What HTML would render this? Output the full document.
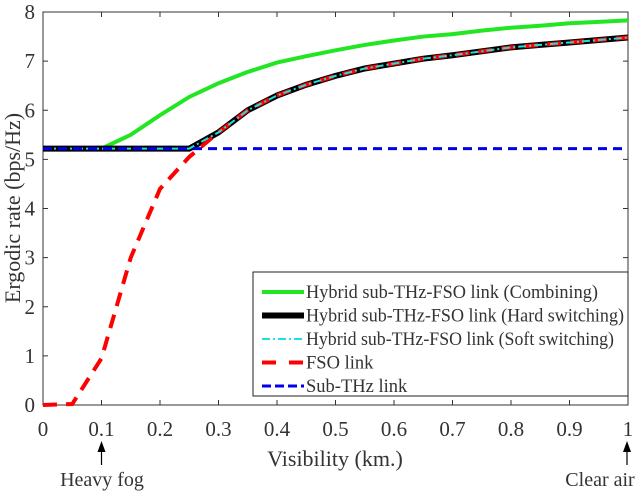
<!DOCTYPE html>
<html><head><meta charset="utf-8"><style>
body{margin:0;background:#fff;width:640px;height:491px;overflow:hidden}
text{font-family:"Liberation Serif",serif;fill:#333}
</style></head><body>
<svg id="chart" width="640" height="491" xmlns="http://www.w3.org/2000/svg"></svg>
<script>
const xs=[0,0.05,0.1,0.15,0.2,0.25,0.3,0.35,0.4,0.45,0.5,0.55,0.6,0.65,0.7,0.75,0.8,0.85,0.9,0.95,1];
const combining=[5.22,5.22,5.22,5.5,5.9,6.27,6.55,6.78,6.97,7.1,7.22,7.33,7.42,7.5,7.55,7.62,7.68,7.72,7.77,7.8,7.83];
const hard=[5.22,5.22,5.22,5.22,5.22,5.22,5.55,6.0,6.3,6.52,6.7,6.85,6.95,7.05,7.12,7.2,7.28,7.33,7.38,7.43,7.48];
const fso=[0,0.02,0.95,3.0,4.4,5.05,5.55,6.0,6.3,6.52,6.7,6.85,6.95,7.05,7.12,7.2,7.28,7.33,7.38,7.43,7.48];
const subthz=[5.22,5.22,5.22,5.22,5.22,5.22,5.22,5.22,5.22,5.22,5.22,5.22,5.22,5.22,5.22,5.22,5.22,5.22,5.22,5.22,5.22];
const xTicks=[0,0.1,0.2,0.3,0.4,0.5,0.6,0.7,0.8,0.9,1];
const yTicks=[0,1,2,3,4,5,6,7,8];
const NS="http://www.w3.org/2000/svg",svg=document.getElementById('chart');
const L=43,R=628,T=12,B=405;
const X=v=>L+v*(R-L),Y=v=>B-v/8*(B-T);
function mk(t,a,p){const e=document.createElementNS(NS,t);for(const k in a)e.setAttribute(k,a[k]);(p||svg).appendChild(e);return e;}
const ax=mk('g',{});


xTicks.forEach(v=>{mk('line',{x1:X(v),x2:X(v),y1:B,y2:B-5,stroke:'#333'},ax);mk('line',{x1:X(v),x2:X(v),y1:T,y2:T+5,stroke:'#333'},ax);
const t=mk('text',{x:X(v),y:B+31,'text-anchor':'middle','font-size':21},ax);t.textContent=v;
});
yTicks.forEach(v=>{mk('line',{x1:L,x2:L+5,y1:Y(v),y2:Y(v),stroke:'#333'},ax);mk('line',{x1:R,x2:R-5,y1:Y(v),y2:Y(v),stroke:'#333'},ax);
const t=mk('text',{x:L-8,y:Y(v)+7,'text-anchor':'end','font-size':21},ax);t.textContent=v;
});
function series(vals,style,name){const d=vals.map((v,i)=>(i?'L':'M')+X(xs[i])+','+Y(v)).join('');
const p=mk('path',Object.assign({d:d,fill:'none'},style));return p;}
series(combining,{stroke:'#22e622','stroke-width':4},'combining-line');
series(hard,{stroke:'#000','stroke-width':6},'hard-switching-line');
series(fso,{stroke:'#ff0000','stroke-width':4,'stroke-dasharray':'14 9'},'fso-line');
series(hard,{stroke:'#22dddd','stroke-width':2,'stroke-dasharray':'8 3 2 3'},'soft-switching-line');
series(subthz,{stroke:'#0000ee','stroke-width':3,'stroke-dasharray':'9 6'},'sub-thz-line');
mk('rect',{x:L,y:T,width:R-L,height:B-T,fill:'none',stroke:'#333'},ax);
const lg=mk('g',{});
mk('rect',{x:253,y:272,width:375,height:124,fill:'#fff',stroke:'#222'},lg);
const items=[['Hybrid sub-THz-FSO link (Combining)',{stroke:'#22e622','stroke-width':4}],
['Hybrid sub-THz-FSO link (Hard switching)',{stroke:'#000','stroke-width':6}],
['Hybrid sub-THz-FSO link (Soft switching)',{stroke:'#22dddd','stroke-width':2,'stroke-dasharray':'8 3 2 3'}],
['FSO link',{stroke:'#ff0000','stroke-width':4,'stroke-dasharray':'14 13'}],
['Sub-THz link',{stroke:'#0000ee','stroke-width':3,'stroke-dasharray':'9 4'}]];
items.forEach((it,i)=>{const y=292+i*23.5;mk('line',Object.assign({x1:262,x2:304,y1:y,y2:y},it[1]),lg);
const t=mk('text',{x:306,y:y+6,'font-size':18.5,fill:'#222',textLength:it[0].length>20?(i==1?318:i==0?292:308):null,lengthAdjust:'spacingAndGlyphs'},lg);
if(it[0].length<=20)t.removeAttribute('textLength');
t.textContent=it[0];
});
const lab=(x,y,s,txt,n,rot)=>{const t=mk('text',{x:x,y:y,'text-anchor':'middle','font-size':s});if(rot)t.setAttribute('transform',rot);t.textContent=txt;
};
lab(335,466,22,'Visibility (km.)','x-axis-title');
lab(20,208,22,'Ergodic rate (bps/Hz)','y-axis-title','rotate(-90 20 208)');
lab(102,486,20,'Heavy fog','heavy-fog-annotation');
lab(600,486,20,'Clear air','clear-air-annotation');
[[X(0.1),'heavy-fog-arrow'],[X(1)-1,'clear-air-arrow']].forEach(a=>{const g=mk('g',{});
mk('line',{x1:a[0],x2:a[0],y1:444,y2:465,stroke:'#000','stroke-width':1.2},g);
mk('path',{d:`M${a[0]-4},452L${a[0]},441L${a[0]+4},452Z`,fill:'#000'},g);});
</script>
</body></html>
